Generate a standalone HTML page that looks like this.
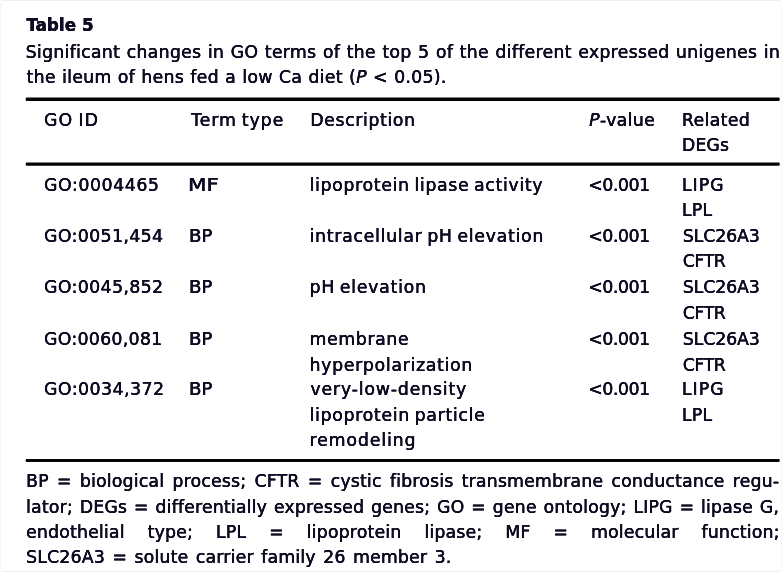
<!DOCTYPE html>
<html lang="en">
<head>
<meta charset="utf-8">
<title>Table 5</title>
<style>
html,body{margin:0;padding:0;background:#fff}
body{width:782px;height:572px;position:relative;overflow:hidden;font-family:"DejaVu Sans","Liberation Sans",sans-serif;font-size:17.3px;color:#0f0b22;line-height:26px}
.t{position:absolute;white-space:pre;transform-origin:0 0;filter:blur(0.35px);height:26px;-webkit-text-stroke:0.2px #0f0b22;text-shadow:0.12px 0 0 #0f0b22,-0.12px 0 0 #0f0b22}
.b{font-family:"DejaVu Sans Condensed","DejaVu Sans","Liberation Sans",sans-serif;font-weight:bold;font-size:18.4px}
i{font-style:italic}
svg{position:absolute;left:0;top:0}
.f{position:absolute;left:0;top:0;width:780px;height:570px;border:1px solid #f6f7fa;border-top-color:#eef0f3;border-bottom-color:#eceef1;border-radius:4px}
</style>
</head>
<body>
<svg class="rules" width="782" height="572" viewBox="0 0 782 572" aria-hidden="true">
  <rect x="25.7" y="97.55" width="754.0" height="3.40" rx="1" fill="#040406"/>
  <rect x="25.7" y="162.4" width="754.0" height="3.40" rx="1" fill="#040406"/>
  <rect x="25.7" y="458.9" width="754.0" height="3.20" rx="1" fill="#040406"/>
</svg>
<div class="f"></div>
<header class="caption">
  <strong class="t b" id="t0" style="left:26.60px;top:12.10px;letter-spacing:0.150px;">Table 5</strong>
  <span class="t" id="t1" style="left:25.70px;top:38.82px;letter-spacing:0.300px;word-spacing:0.707px;">Significant changes in GO terms of the top 5 of the different expressed unigenes in</span>
  <span class="t" id="t2" style="left:26.60px;top:64.42px;letter-spacing:0.300px;word-spacing:0.450px;">the ileum of hens fed a low Ca diet (<i>P</i> &lt; 0.05).</span>
</header>
<div class="table" role="table" aria-label="Table 5">
  <div class="thead" role="rowgroup">
    <div class="tr" role="row">
      <div class="th" role="columnheader"><span class="t" id="t3" style="left:44.10px;top:106.52px;letter-spacing:1.133px;word-spacing:-1.500px;">GO ID</span></div>
      <div class="th" role="columnheader"><span class="t" id="t4" style="left:191.15px;top:106.52px;letter-spacing:0.956px;word-spacing:-1.500px;">Term type</span></div>
      <div class="th" role="columnheader"><span class="t" id="t5" style="left:310.30px;top:106.52px;letter-spacing:0.630px;">Description</span></div>
      <div class="th" role="columnheader"><span class="t" id="t6" style="left:589.20px;top:106.52px;letter-spacing:0.375px;"><i>P</i>-value</span></div>
      <div class="th" role="columnheader"><span class="t" id="t7" style="left:681.95px;top:106.52px;letter-spacing:0.375px;">Related</span> <span class="t" id="t8" style="left:681.95px;top:132.02px;letter-spacing:0.150px;">DEGs</span></div>
    </div>
  </div>
  <div class="tbody" role="rowgroup">
    <div class="tr" role="row">
      <div class="td" role="cell"><span class="t" id="t9" style="left:44.10px;top:172.22px;letter-spacing:0.600px;">GO:0004465</span></div>
      <div class="td" role="cell"><span class="t" id="t10" style="left:188.45px;top:172.22px;transform:scaleX(1.2406);">MF</span></div>
      <div class="td" role="cell"><span class="t" id="t11" style="left:309.55px;top:172.22px;letter-spacing:0.692px;word-spacing:-1.500px;">lipoprotein lipase activity</span></div>
      <div class="td" role="cell"><span class="t" id="t12" style="left:588.35px;top:172.22px;letter-spacing:-0.450px;">&lt;0.001</span></div>
      <div class="td" role="cell"><span class="t" id="t13" style="left:681.95px;top:172.22px;letter-spacing:1.050px;">LIPG</span> <span class="t" id="t14" style="left:681.95px;top:197.22px;letter-spacing:0.225px;">LPL</span></div>
    </div>
    <div class="tr" role="row">
      <div class="td" role="cell"><span class="t" id="t15" style="left:44.10px;top:222.52px;letter-spacing:0.405px;">GO:0051,454</span></div>
      <div class="td" role="cell"><span class="t" id="t16" style="left:189.35px;top:222.52px;transform:scaleX(1.0476);">BP</span></div>
      <div class="td" role="cell"><span class="t" id="t17" style="left:309.55px;top:222.52px;letter-spacing:0.738px;word-spacing:-1.500px;">intracellular pH elevation</span></div>
      <div class="td" role="cell"><span class="t" id="t18" style="left:588.35px;top:222.52px;letter-spacing:-0.450px;">&lt;0.001</span></div>
      <div class="td" role="cell"><span class="t" id="t19" style="left:682.85px;top:222.52px;letter-spacing:-0.075px;">SLC26A3</span> <span class="t" id="t20" style="left:682.85px;top:248.22px;letter-spacing:-0.450px;">CFTR</span></div>
    </div>
    <div class="tr" role="row">
      <div class="td" role="cell"><span class="t" id="t21" style="left:44.10px;top:274.42px;letter-spacing:0.405px;">GO:0045,852</span></div>
      <div class="td" role="cell"><span class="t" id="t22" style="left:189.35px;top:274.42px;transform:scaleX(1.0476);">BP</span></div>
      <div class="td" role="cell"><span class="t" id="t23" style="left:309.55px;top:274.42px;letter-spacing:0.777px;word-spacing:-1.500px;">pH elevation</span></div>
      <div class="td" role="cell"><span class="t" id="t24" style="left:588.35px;top:274.42px;letter-spacing:-0.450px;">&lt;0.001</span></div>
      <div class="td" role="cell"><span class="t" id="t25" style="left:682.85px;top:274.42px;letter-spacing:-0.075px;">SLC26A3</span> <span class="t" id="t26" style="left:682.85px;top:299.92px;letter-spacing:-0.450px;">CFTR</span></div>
    </div>
    <div class="tr" role="row">
      <div class="td" role="cell"><span class="t" id="t27" style="left:44.10px;top:325.92px;letter-spacing:0.315px;">GO:0060,081</span></div>
      <div class="td" role="cell"><span class="t" id="t28" style="left:189.35px;top:325.92px;transform:scaleX(1.0476);">BP</span></div>
      <div class="td" role="cell"><span class="t" id="t29" style="left:309.55px;top:325.92px;letter-spacing:0.643px;">membrane</span> <span class="t" id="t32" style="left:309.55px;top:351.52px;letter-spacing:0.703px;">hyperpolarization</span></div>
      <div class="td" role="cell"><span class="t" id="t30" style="left:588.35px;top:325.92px;letter-spacing:-0.450px;">&lt;0.001</span></div>
      <div class="td" role="cell"><span class="t" id="t31" style="left:682.85px;top:325.92px;letter-spacing:-0.075px;">SLC26A3</span> <span class="t" id="t33" style="left:682.85px;top:351.52px;letter-spacing:-0.450px;">CFTR</span></div>
    </div>
    <div class="tr" role="row">
      <div class="td" role="cell"><span class="t" id="t34" style="left:44.10px;top:376.32px;letter-spacing:0.495px;">GO:0034,372</span></div>
      <div class="td" role="cell"><span class="t" id="t35" style="left:189.35px;top:376.32px;transform:scaleX(1.0476);">BP</span></div>
      <div class="td" role="cell"><span class="t" id="t36" style="left:310.45px;top:376.32px;letter-spacing:0.840px;">very-low-density</span> <span class="t" id="t39" style="left:309.55px;top:402.02px;letter-spacing:0.711px;word-spacing:-1.500px;">lipoprotein particle</span> <span class="t" id="t41" style="left:309.55px;top:427.22px;letter-spacing:0.900px;">remodeling</span></div>
      <div class="td" role="cell"><span class="t" id="t37" style="left:588.35px;top:376.32px;letter-spacing:-0.450px;">&lt;0.001</span></div>
      <div class="td" role="cell"><span class="t" id="t38" style="left:681.95px;top:376.32px;letter-spacing:1.050px;">LIPG</span> <span class="t" id="t40" style="left:681.95px;top:402.02px;letter-spacing:0.225px;">LPL</span></div>
    </div>
  </div>
</div>
<footer class="legend">
  <span class="t" id="t42" style="left:26.10px;top:468.02px;letter-spacing:0.200px;word-spacing:2.520px;">BP = biological process; CFTR = cystic fibrosis transmembrane conductance regu-</span>
  <span class="t" id="t43" style="left:26.10px;top:493.52px;letter-spacing:0.200px;word-spacing:1.108px;">lator; DEGs = differentially expressed genes; GO = gene ontology; LIPG = lipase G,</span>
  <span class="t" id="t44" style="left:26.10px;top:519.02px;letter-spacing:0.200px;word-spacing:17.200px;">endothelial type; LPL = lipoprotein lipase; MF = molecular function;</span>
  <span class="t" id="t45" style="left:26.10px;top:544.32px;letter-spacing:0.200px;word-spacing:1.736px;">SLC26A3 = solute carrier family 26 member 3.</span>
</footer>
</body>
</html>
